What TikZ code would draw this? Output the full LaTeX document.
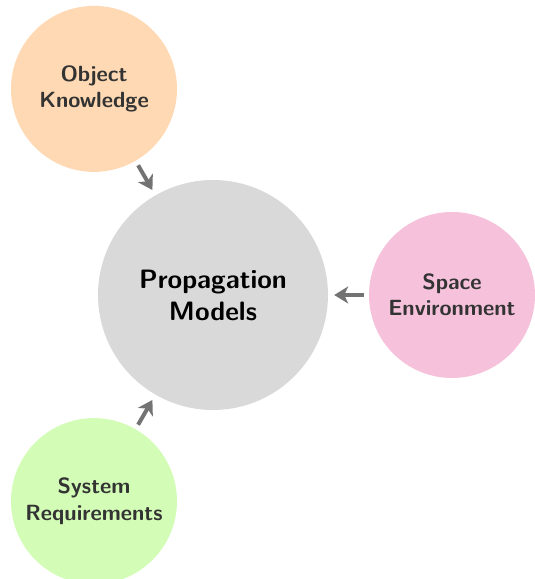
\documentclass[tikz,border=0pt]{standalone}
\usepackage{xcolor}
\usepackage{tikz}
\usetikzlibrary{shapes,arrows.meta,positioning,calc}

\definecolor{objfill}{RGB}{255,217,179}
\definecolor{envfill}{RGB}{246,194,219}
\definecolor{reqfill}{RGB}{211,253,183}

\begin{document}
\begin{tikzpicture}[x=1pt,y=1pt,
  blob/.style={circle, inner sep=0pt, align=center, minimum size=166pt, text=black!80,
    font=\fontsize{22}{26.4}\selectfont\sffamily\bfseries},
  hub/.style={circle, inner sep=0pt, align=center, minimum size=230pt, fill=black!15,
    font=\fontsize{26.6}{32}\selectfont\sffamily\bfseries},
  feed/.style={-{Stealth[length=14pt,width=17pt,inset=4pt]}, line width=4pt, black!55,
    shorten <=5pt, shorten >=6pt}]
\useasboundingbox (0,0) rectangle (535,579);
\node[hub] (prop) at (213,284) {Propagation\\Models};
\node[blob, fill=objfill] (obj) at ($(prop)+(120:238)$) {Object\\Knowledge};
\node[blob, fill=envfill] (env) at ($(prop)+(0:239)$) {Space\\Environment};
\node[blob, fill=reqfill] (req) at ($(prop)+(240:238)$) {System\\Requirements};
\draw[feed] (obj) -- (prop);
\draw[feed] (env) -- (prop);
\draw[feed] (req) -- (prop);
\end{tikzpicture}
\end{document}
